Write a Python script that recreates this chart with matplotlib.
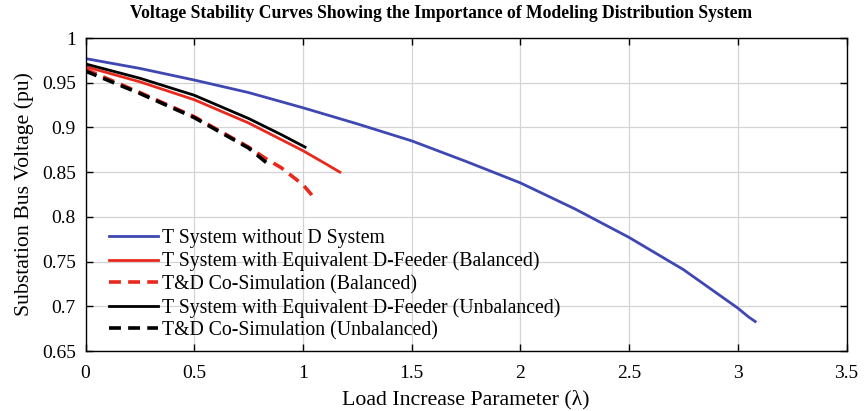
import matplotlib
matplotlib.use("Agg")
import matplotlib.pyplot as plt
import numpy as np

plt.rcParams['font.family'] = ['Liberation Serif', 'DejaVu Serif']

# T System without D System
lam_t = [0.0, 0.25, 0.5, 0.75, 1.0, 1.25, 1.5, 1.75, 2.0, 2.25, 2.5, 2.75, 3.0, 3.05, 3.08]
v_t = [0.977, 0.966, 0.953, 0.939, 0.922, 0.904, 0.885, 0.862, 0.838, 0.809, 0.777, 0.741, 0.698, 0.688, 0.683]

# T System with Equivalent D-Feeder (Balanced)
lam_eb = [0.0, 0.25, 0.5, 0.75, 1.0, 1.1, 1.17]
v_eb = [0.968, 0.951, 0.931, 0.905, 0.874, 0.860, 0.850]

# T&D Co-Simulation (Balanced)
lam_cb = [0.0, 0.25, 0.5, 0.75, 0.83, 0.9, 1.0, 1.06]
v_cb = [0.965, 0.939, 0.912, 0.878, 0.865, 0.855, 0.836, 0.819]

# T System with Equivalent D-Feeder (Unbalanced)
lam_eu = [0.0, 0.25, 0.5, 0.75, 0.9, 1.01]
v_eu = [0.971, 0.955, 0.936, 0.910, 0.892, 0.878]

# T&D Co-Simulation (Unbalanced)
lam_cu = [0.0, 0.25, 0.5, 0.75, 0.84]
v_cu = [0.963, 0.938, 0.911, 0.877, 0.859]

labels = ["T System without D System",
          "T System with Equivalent D-Feeder (Balanced)",
          "T&D Co-Simulation (Balanced)",
          "T System with Equivalent D-Feeder (Unbalanced)",
          "T&D Co-Simulation (Unbalanced)"]

blue = '#3F47B2'
red = '#E8291D'

fig = plt.figure(figsize=(8.64, 4.11), dpi=100)
ax = fig.add_axes([85.5/864, 1-351/411, (846.5-85.5)/864, (351-38)/411])

lw = 2.0
dash = (0, (3.3, 2.0))
ax.plot(lam_t, v_t, color=blue, lw=lw, label=labels[0])
ax.plot(lam_eb, v_eb, color=red, lw=lw, label=labels[1])
ax.plot(lam_cb, v_cb, color=red, lw=lw + 0.6, ls=dash, label=labels[2])
ax.plot(lam_eu, v_eu, color='black', lw=lw, label=labels[3])
ax.plot(lam_cu, v_cu, color='black', lw=lw + 0.6, ls=dash, label=labels[4])

ax.set_xlim(0, 3.5)
ax.set_ylim(0.65, 1.0)
ax.set_xticks(np.arange(0, 3.51, 0.5))
ax.set_xticklabels(['0', '0.5', '1', '1.5', '2', '2.5', '3', '3.5'])
ax.set_yticks(np.arange(0.65, 1.001, 0.05))
ax.set_yticklabels(['0.65', '0.7', '0.75', '0.8', '0.85', '0.9', '0.95', '1'])
ax.grid(True, color='#d4d4d4', lw=0.9)
ax.set_axisbelow(True)
ax.tick_params(direction='in', labelsize=14, length=5, width=1, top=True, right=True)
ax.tick_params(axis='x', pad=10)
ax.tick_params(axis='y', pad=7)
for s in ax.spines.values():
    s.set_linewidth(1.0)

ax.set_xlabel('Load Increase Parameter (λ)', fontsize=15.7, labelpad=6)
ax.set_ylabel('Substation Bus Voltage (pu)', fontsize=15.7, labelpad=6)
fig.text(441/864, 1-14/411,
         'Voltage Stability Curves Showing the Importance of Modeling Distribution System',
         fontsize=12.7, fontweight='bold', ha='center', va='center')

leg = ax.legend(loc='lower left', frameon=False, fontsize=14.2, handlelength=2.5,
                handletextpad=0.2, labelspacing=0.18, borderaxespad=0.3,
                bbox_to_anchor=(0.0125, -0.01))

fig.savefig('out.png', dpi=100)
